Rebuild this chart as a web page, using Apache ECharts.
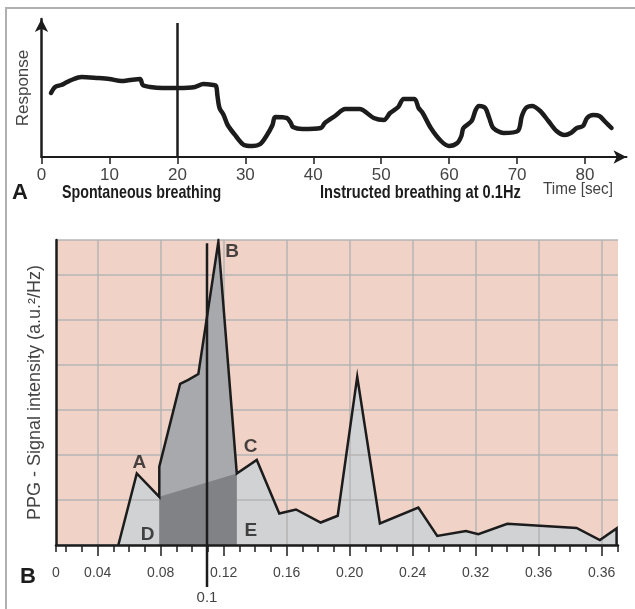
<!DOCTYPE html>
<html>
<head>
<meta charset="utf-8">
<script src="https://cdn.jsdelivr.net/npm/echarts@6/dist/echarts.min.js"></script>
<style>
  html, body { margin: 0; padding: 0; background: #fff; }
  #chart { width: 635px; height: 609px; }
</style>
</head>
<body>
<div id="chart"></div>
<script>
// panel A: response over time (sec)
const respTime = [1.4, 2.0, 2.9, 3.5, 4.4, 5.9, 8.3, 10.0, 11.8, 13.0, 14.5, 14.9, 16.0, 17.8, 20.2,
  22.6, 23.8, 25.3, 25.7, 25.9, 26.2, 26.8, 27.4, 28.6, 29.8, 31.0, 32.2, 33.1, 34.0, 34.4,
  36.1, 36.7, 37.0, 38.4, 41.1, 41.7, 43.2, 44.7, 46.8, 48.9, 50.4, 51.3, 52.5, 53.3, 54.9,
  55.5, 56.1, 57.3, 58.8, 60.0, 61.2, 61.8, 62.1, 63.3, 63.9, 64.4, 65.3, 65.9, 66.5, 68.0,
  70.1, 70.7, 71.3, 72.2, 73.4, 74.6, 75.8, 77.0, 77.9, 78.8, 79.7, 80.3, 81.2, 82.1, 83.0, 83.9];
const respValue = [64, 70, 72, 74, 77, 80, 79, 78, 76, 77, 78, 72, 70, 69, 69,
  70, 73, 72, 71, 61, 49, 42, 32, 21, 12, 11, 13, 21, 32, 40,
  39, 34, 30, 28, 29, 34, 41, 48, 48, 39, 37, 44, 50, 58, 58,
  49, 44, 29, 16, 11, 14, 21, 29, 36, 47, 51, 49, 39, 29, 24,
  26, 41, 49, 51, 46, 36, 26, 22, 24, 29, 31, 39, 42, 41, 35, 29];
const switchTime = 20;

// panel B: PPG spectrum
const freq = [0.0531, 0.0648, 0.0791, 0.0791, 0.0923, 0.0975, 0.1039, 0.1166, 0.1283, 0.1410,
  0.1553, 0.1659, 0.1816, 0.1924, 0.2048, 0.2192, 0.2436, 0.2556, 0.2738, 0.2817,
  0.3001, 0.3441, 0.3589, 0.3695, 0.3695];
const psd = [0, 1.59, 1.07, 1.74, 3.58, 3.67, 3.80, 6.74, 1.59, 1.89,
  0.70, 0.79, 0.50, 0.65, 3.74, 0.48, 0.83, 0.20, 0.31, 0.24,
  0.47, 0.38, 0.11, 0.37, 0];
const bandLo = 0.0791, bandHi = 0.1283;

const freqTicks = [0.04, 0.08, 0.12, 0.16, 0.20, 0.24, 0.28, 0.32, 0.36];
const freqTickLabels = ['0', '0.04', '0.08', '0.12', '0.16', '0.20', '0.24', '0.32', '0.36', '0.36'];
const markFreq = 0.1094, markLabel = '0.1';

const peakLabels = [
  ['A', 0.0664, 1.83],
  ['B', 0.1253, 6.51],
  ['C', 0.1371, 2.18],
  ['D', 0.0717, 0.22],
  ['E', 0.1373, 0.31]
];

const SANS = '"Liberation Sans", Arial, sans-serif';
const INK = '#1c1c1c';
const LABEL = '#444';
const GRID_GREY = '#b5b5b5';
const SQUEEZE = 0.75; // no condensed face installed, so squeeze the caption texts

const timeMax = 86.1, respMax = 138;
const freqMin = 0.0135, freqMax = 0.3704, psdMax = 6.78;

const labelValues = [freqMin].concat(freqTicks);
const minorTicks = [freqMin];
for (let k = 2; k <= 37; k++) if (k % 4) minorTicks.push(k / 100);

const psdData = freq.map((f, i) => [f, psd[i]]);
// band: curve between bandLo and bandHi, starting from the upper point of the jump
const hiAtLo = Math.max(...psd.filter((v, j) => freq[j] === bandLo));
const loVal = Math.min(...psd.filter((v, j) => freq[j] === bandLo));
const bandData = psdData.filter(p => (p[0] > bandLo && p[0] <= bandHi) || (p[0] === bandLo && p[1] === hiAtLo));
const hiVal = psd[freq.indexOf(bandHi)];

const chart = echarts.init(document.getElementById('chart'), null, { renderer: 'canvas' });

const option = {
  animation: false,
  backgroundColor: '#fff',
  grid: [
    { left: 41.5, top: 19, right: 8.5, height: respMax },
    { left: 56, top: 240, width: 562, height: 305, show: true, backgroundColor: '#f0d2c7', borderWidth: 0, z: -5 }
  ],
  xAxis: [
    {
      type: 'value', gridIndex: 0, min: 0, max: timeMax, interval: 10,
      axisLine: { lineStyle: { color: INK, width: 2 }, symbol: ['none', 'arrow'], symbolSize: [10, 13] },
      axisTick: { show: true, length: 7, lineStyle: { color: INK, width: 1.5 } },
      axisLabel: { fontFamily: SANS, fontSize: 17, color: LABEL, margin: 10, showMaxLabel: false },
      splitLine: { show: false }
    },
    {
      // gridlines, major ticks, labels
      type: 'value', gridIndex: 1, position: 'bottom', min: freqMin, max: freqMax,
      axisLine: { show: false },
      axisTick: { show: true, length: 11, customValues: freqTicks, lineStyle: { color: INK, width: 1.5 } },
      axisLabel: {
        customValues: labelValues, fontFamily: SANS, fontSize: 14, color: LABEL, margin: 21,
        formatter: (v) => freqTickLabels[labelValues.findIndex(x => Math.abs(x - v) < 1e-9)]
      },
      splitLine: { show: true, lineStyle: { color: GRID_GREY, width: 1.5 } }
    },
    {
      // axis line + minor ticks, drawn over the fills
      type: 'value', gridIndex: 1, position: 'bottom', min: freqMin, max: freqMax, z: 4,
      axisLine: { lineStyle: { color: INK, width: 2.5 } },
      axisTick: { show: true, length: 7, customValues: minorTicks, lineStyle: { color: INK, width: 1.5 } },
      axisLabel: { show: false },
      splitLine: { show: false }
    }
  ],
  yAxis: [
    {
      type: 'value', gridIndex: 0, min: 0, max: respMax,
      name: 'Response', nameLocation: 'middle', nameGap: 10,
      nameTextStyle: { fontFamily: SANS, fontSize: 17, color: LABEL },
      axisLine: { lineStyle: { color: INK, width: 2.5 }, symbol: ['none', 'arrow'], symbolSize: [10, 13] },
      axisTick: { show: false }, axisLabel: { show: false }, splitLine: { show: false }
    },
    {
      type: 'value', gridIndex: 1, min: 0, max: psdMax, interval: 1,
      name: 'PPG - Signal intensity (a.u.\u00b2/Hz)', nameLocation: 'middle', nameGap: 12,
      nameTextStyle: { fontFamily: SANS, fontSize: 18, color: LABEL },
      axisLine: { lineStyle: { color: INK, width: 2.5 } },
      axisTick: { show: false }, axisLabel: { show: false },
      splitLine: { show: true, lineStyle: { color: GRID_GREY, width: 1.5 } }
    }
  ],
  series: [
    {
      type: 'line', xAxisIndex: 0, yAxisIndex: 0, smooth: 0.3, symbol: 'none',
      data: respTime.map((t, i) => [t, respValue[i]]),
      lineStyle: { color: INK, width: 4.5, cap: 'round', join: 'round' },
      markLine: {
        silent: true, symbol: ['none', 'none'], label: { show: false },
        lineStyle: { color: INK, width: 2.5, type: 'solid' },
        data: [[{ coord: [switchTime, 0] }, { coord: [switchTime, 134] }]]
      }
    },
    {
      // whole spectrum fill (under gridlines)
      type: 'line', xAxisIndex: 1, yAxisIndex: 1, symbol: 'none', z: -1,
      data: psdData, lineStyle: { width: 0 },
      areaStyle: { color: '#d1d2d4', opacity: 1 }
    },
    {
      type: 'line', xAxisIndex: 1, yAxisIndex: 1, symbol: 'none', z: 2,
      data: bandData, lineStyle: { width: 0 },
      areaStyle: { color: '#a8a9ac', opacity: 1 }
    },
    {
      type: 'line', xAxisIndex: 1, yAxisIndex: 1, symbol: 'none', z: 2,
      data: [[bandLo, loVal], [bandHi, hiVal]], lineStyle: { width: 0 },
      areaStyle: { color: '#808285', opacity: 1 }
    },
    {
      type: 'line', xAxisIndex: 1, yAxisIndex: 1, symbol: 'none', z: 3,
      data: psdData,
      lineStyle: { color: INK, width: 2.5, join: 'miter' }
    },
    {
      type: 'scatter', xAxisIndex: 1, yAxisIndex: 1, symbolSize: 1, z: 5, silent: true,
      itemStyle: { color: 'transparent' },
      data: peakLabels.map(p => ({ name: p[0], value: [p[1], p[2]] })),
      label: {
        show: true, position: 'inside', formatter: '{b}',
        fontFamily: SANS, fontWeight: 'bold', fontSize: 19, color: INK
      }
    }
  ]
};

chart.setOption(option);

const mTop = chart.convertToPixel({ xAxisIndex: 1, yAxisIndex: 1 }, [markFreq, 6.71]);
const mBase = chart.convertToPixel({ xAxisIndex: 1, yAxisIndex: 1 }, [markFreq, 0]);

const caption = (x, y, text, font, fill, extra) => Object.assign({
  type: 'text', x: x, y: y, scaleX: SQUEEZE,
  style: { text: text, font: font, fill: fill, verticalAlign: 'middle' }
}, extra || {});

chart.setOption({
  graphic: [
    { type: 'polyline', silent: true, shape: { points: [[635, 8], [6, 8], [6, 609]] },
      style: { stroke: '#b0b0b0', lineWidth: 2, fill: null } },
    { type: 'text', x: 12, y: 193, style: { text: 'A', font: 'bold 22px ' + SANS, fill: INK, verticalAlign: 'middle' } },
    caption(62, 193, 'Spontaneous breathing', 'bold 19px ' + SANS, INK),
    caption(320, 193, 'Instructed breathing at 0.1Hz', 'bold 19px ' + SANS, INK, { scaleX: 0.77 }),
    caption(543, 189, 'Time [sec]', '17px ' + SANS, LABEL, { scaleX: 0.9 }),
    { type: 'text', x: 20, y: 577, style: { text: 'B', font: 'bold 22px ' + SANS, fill: INK, verticalAlign: 'middle' } },
    { type: 'line', silent: true, z: 10,
      shape: { x1: mTop[0], y1: mTop[1], x2: mBase[0], y2: mBase[1] + 42 },
      style: { stroke: INK, lineWidth: 2.5 } },
    { type: 'text', x: mBase[0], y: mBase[1] + 53,
      style: { text: markLabel, font: '15px ' + SANS, fill: LABEL, align: 'center', verticalAlign: 'middle' } }
  ]
});
</script>
</body>
</html>
